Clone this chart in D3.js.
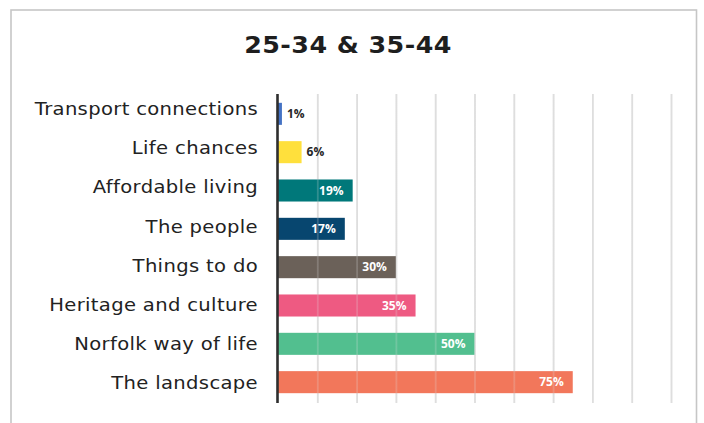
<!DOCTYPE html>
<html>
<head>
<meta charset="utf-8">
<script src="https://cdn.jsdelivr.net/npm/d3@7"></script>
<style>
  html, body { margin: 0; padding: 0; background: #fff; }
  svg { display: block; }
</style>
</head>
<body>
<svg id="chart" width="704" height="423"></svg>
<script>
// Reasons people aged 25-44 value life in Norfolk (% of respondents)
const title = "25-34 & 35-44";
const categories = [
  "Transport connections",
  "Life chances",
  "Affordable living",
  "The people",
  "Things to do",
  "Heritage and culture",
  "Norfolk way of life",
  "The landscape"
];
const values = [1, 6, 19, 17, 30, 35, 50, 75];
const colors = ["#4472c4", "#ffe03c", "#00787a", "#07466f", "#6b6159", "#ee5a82", "#52bf8f", "#f2775b"];
const gridTicks = [10, 20, 30, 40, 50, 60, 70, 80, 90, 100];

const svg = d3.select("#chart");

// outer frame
svg.append("rect")
  .attr("x", 11).attr("y", 10)
  .attr("width", 685.5).attr("height", 430)
  .attr("fill", "none")
  .attr("stroke", "#c6c6c6")
  .attr("stroke-width", 1.6);

// title (slightly widened bold grotesque)
svg.append("text")
  .attr("transform", "translate(348,53) scale(1.08,1)")
  .attr("text-anchor", "middle")
  .attr("font-family", "DejaVu Sans")
  .attr("font-weight", "bold")
  .attr("font-size", 23.5)
  .attr("letter-spacing", 0.4)
  .attr("fill", "#1e1e1e")
  .text(title);

const x = d3.scaleLinear().domain([0, 100]).range([278, 671]);
const y = d3.scaleBand().domain(categories).range([94, 402]).paddingInner(0.425).paddingOuter(0.23);
const yLabel = d3.scalePoint().domain(categories).range([109, 382.5]);

// vertical gridlines, fading from light at the top to darker at the bottom
const defs = svg.append("defs");
const grad = defs.append("linearGradient")
  .attr("id", "gridFade")
  .attr("gradientUnits", "userSpaceOnUse")
  .attr("x1", 0).attr("y1", 94).attr("x2", 0).attr("y2", 403);
grad.append("stop").attr("offset", "0%").attr("stop-color", "#dedede");
grad.append("stop").attr("offset", "50%").attr("stop-color", "#b8b8b8");
grad.append("stop").attr("offset", "100%").attr("stop-color", "#7e7e7e");

const gridAxis = d3.axisBottom(x).tickValues(gridTicks).tickSize(-(403 - 94)).tickFormat("");
const grid = svg.append("g")
  .attr("transform", "translate(0,403)")
  .call(gridAxis);
grid.select(".domain").remove();
grid.selectAll(".tick line")
  .attr("stroke", "url(#gridFade)")
  .attr("stroke-width", 1.8);

// bars
svg.append("g").selectAll("rect")
  .data(values)
  .join("rect")
  .attr("x", x(0))
  .attr("y", (d, i) => y(categories[i]))
  .attr("width", d => x(d) - x(0))
  .attr("height", y.bandwidth())
  .attr("fill", (d, i) => colors[i]);

// faint gridlines showing through the bars
const gridOver = svg.append("g")
  .attr("transform", "translate(0,403)")
  .call(gridAxis);
gridOver.select(".domain").remove();
gridOver.selectAll(".tick line")
  .attr("stroke", "url(#gridFade)")
  .attr("stroke-width", 1.8)
  .attr("opacity", 0.22);

// category axis line
svg.append("line")
  .attr("x1", x(0) - 0.5).attr("x2", x(0) - 0.5)
  .attr("y1", 94).attr("y2", 403)
  .attr("stroke", "#2e2e2e")
  .attr("stroke-width", 2.6);

// category labels, set in a widened face
svg.append("g").selectAll("text")
  .data(categories)
  .join("text")
  .attr("transform", d => `translate(258,${yLabel(d) + 6.3}) scale(1.12,1)`)
  .attr("text-anchor", "end")
  .attr("font-family", "DejaVu Sans")
  .attr("font-size", 17.5)
  .attr("letter-spacing", 0.3)
  .attr("fill", "#222")
  .text(d => d);

// value labels: outside for short bars, inside the end otherwise
svg.append("g").selectAll("text")
  .data(values)
  .join("text")
  .attr("x", d => d < 10 ? x(d) + 5 : x(d) - 9)
  .attr("y", (d, i) => y(categories[i]) + y.bandwidth() / 2 + 4.3)
  .attr("text-anchor", d => d < 10 ? "start" : "end")
  .attr("font-family", "Open Sans")
  .attr("font-weight", "bold")
  .attr("font-size", 12)
  .attr("fill", d => d < 10 ? "#262626" : "#ffffff")
  .text(d => d + "%");
</script>
</body>
</html>
